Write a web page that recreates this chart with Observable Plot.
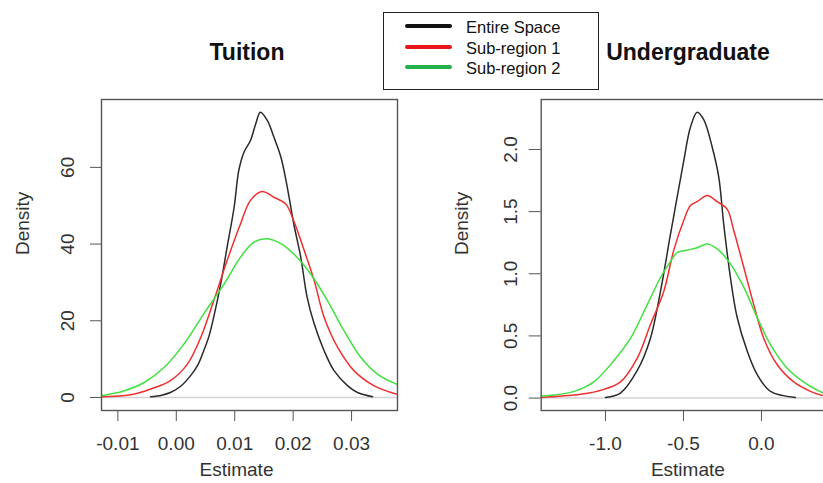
<!DOCTYPE html>
<html><head><meta charset="utf-8">
<script src="https://cdn.jsdelivr.net/npm/d3@7"></script>
<script src="https://cdn.jsdelivr.net/npm/@observablehq/plot@0.6"></script>
<style>
html,body{margin:0;padding:0;background:#fff;overflow:hidden;}
#stage{position:relative;width:823px;height:483px;overflow:hidden;background:#fff;font-family:"Liberation Sans",Arial,sans-serif;}
.panel{position:absolute;top:0;}
.title{position:absolute;font-weight:bold;font-size:23px;line-height:23px;color:#111;transform:translateX(-50%);white-space:nowrap;}
#legend{position:absolute;left:383px;top:12px;width:216px;height:78px;border:1px solid #222;box-sizing:border-box;background:#fff;}
.row{position:absolute;left:0;height:20px;width:100%;}
.swatch{position:absolute;left:21px;top:7px;width:47px;height:4px;border-radius:2px;}
.lab{position:absolute;left:82px;top:0;font-size:16.5px;color:#111;line-height:20px;white-space:nowrap;}
</style></head>
<body><div id="stage"></div>
<script>
// ---- data ----
const seriesNames = ["Entire Space", "Sub-region 1", "Sub-region 2"];
const seriesColors = ["#2a2a2a", "#f03030", "#40e040"];
const legendColors = ["#111111", "#e8141c", "#22b04b"];
const panelTitles = ["Tuition", "Undergraduate"];

const tuitionTicksX = [-0.01, 0.00, 0.01, 0.02, 0.03];
const tuitionTicksY = [0, 20, 40, 60];
const undergradTicksX = [-1.0, -0.5, 0.0];
const undergradTicksY = [0.0, 0.5, 1.0, 1.5, 2.0];

const tuitionEntireX = [-0.0044, -0.0025, -0.001, 0.0008, 0.00245, 0.0037, 0.0047, 0.0056, 0.0064, 0.0076, 0.0087, 0.0099, 0.0107, 0.0116, 0.0127, 0.0136, 0.0144, 0.0156, 0.0167, 0.0179, 0.019, 0.0201, 0.0213, 0.0224, 0.0236, 0.0253, 0.027, 0.0293, 0.031, 0.0336];
const tuitionEntireY = [0.2, 0.6, 1.3, 3, 5.7, 8.5, 12.2, 16, 20.9, 29.6, 39.2, 49.6, 59.2, 64, 67, 71.4, 74.4, 72.2, 67.9, 62.7, 54.8, 45.3, 36.6, 26.1, 19.2, 12.2, 7, 3.1, 1.3, 0.2];
const tuitionSub1X = [-0.013, -0.0078, -0.0044, -0.001, 0.0019, 0.0042, 0.0064, 0.0087, 0.011, 0.0127, 0.0147, 0.0167, 0.0187, 0.0201, 0.0219, 0.0236, 0.0253, 0.0276, 0.0304, 0.0338, 0.0378];
const tuitionSub1Y = [0.2, 0.7, 2.2, 4.4, 8.7, 15.7, 25.2, 35.7, 45.3, 51.4, 53.7, 52.2, 50.5, 46.1, 38.3, 30.5, 20.9, 13.1, 7, 3.1, 0.8];
const tuitionSub2X = [-0.013, -0.009, -0.0055, -0.0021, 0.0013, 0.0047, 0.0082, 0.011, 0.0133, 0.0156, 0.0179, 0.0201, 0.023, 0.0259, 0.0287, 0.0316, 0.0344, 0.0378];
const tuitionSub2Y = [0.4, 1.7, 3.9, 7.8, 13.9, 21.8, 29.6, 36.6, 40.5, 41.4, 40.1, 37.4, 32.2, 25.2, 17.4, 10.4, 6.1, 3.4];

const undergradEntireX = [-1.0, -0.904, -0.797, -0.712, -0.647, -0.583, -0.54, -0.498, -0.455, -0.412, -0.37, -0.316, -0.274, -0.242, -0.199, -0.156, -0.092, -0.028, 0.058, 0.218];
const undergradEntireY = [0.005, 0.04, 0.22, 0.48, 0.86, 1.32, 1.62, 1.91, 2.18, 2.30, 2.24, 2.02, 1.78, 1.40, 0.97, 0.65, 0.38, 0.19, 0.054, 0.005];
const undergradSub1X = [-1.417, -1.16, -1.01, -0.904, -0.797, -0.712, -0.626, -0.562, -0.498, -0.455, -0.412, -0.348, -0.284, -0.22, -0.178, -0.113, -0.049, 0.015, 0.10, 0.207, 0.314, 0.389];
const undergradSub1Y = [0.005, 0.03, 0.07, 0.13, 0.32, 0.59, 0.86, 1.19, 1.43, 1.55, 1.58, 1.63, 1.58, 1.52, 1.35, 1.05, 0.75, 0.48, 0.27, 0.13, 0.054, 0.02];
const undergradSub2X = [-1.417, -1.20, -1.075, -0.947, -0.84, -0.733, -0.647, -0.583, -0.54, -0.476, -0.412, -0.348, -0.284, -0.199, -0.113, -0.028, 0.058, 0.165, 0.293, 0.397];
const undergradSub2Y = [0.014, 0.054, 0.13, 0.30, 0.48, 0.75, 0.97, 1.10, 1.17, 1.19, 1.21, 1.24, 1.20, 1.08, 0.89, 0.65, 0.43, 0.24, 0.11, 0.04];

// ---- helpers ----
const zip = (xs, ys) => xs.map((x, i) => ({x, y: ys[i]}));
const stage = document.getElementById("stage");
const FONT = '"Liberation Sans", Arial, sans-serif';

function makePanel(cfg) {
  const marks = [
    Plot.ruleY([0], {stroke: "#d4d4d4", strokeWidth: 1.5}),
    ...cfg.series.map((s, i) => Plot.line(zip(s[0], s[1]), {
      x: "x", y: "y", stroke: seriesColors[i], strokeWidth: 1.5, curve: "catmull-rom", clip: true
    })),
    Plot.frame({stroke: "#555", strokeWidth: 1.4}),
    Plot.axisX(cfg.ticksX, {tickSize: 11, tickPadding: 15, tickFormat: cfg.fmtX, fontSize: 19, fill: "#333", stroke: "#555", label: null}),
    Plot.axisY(cfg.ticksY, {tickSize: cfg.tickSizeY, tickPadding: cfg.padY, tickRotate: -90, tickFormat: cfg.fmtY, fontSize: 19, fill: "#333", stroke: "#555", label: null}),
    Plot.text(["Estimate"], {text: d => d, frameAnchor: "bottom", dy: 65, dx: cfg.xLabelDx, fontSize: 19, fill: "#333"}),
    Plot.text(["Density"], {text: d => d, frameAnchor: "left", dx: -79, rotate: -90, fontSize: 19, fill: "#333"})
  ];
  const svg = Plot.plot({
    width: cfg.width, height: 483,
    marginLeft: cfg.mL, marginRight: cfg.mR, marginTop: 99, marginBottom: 73,
    style: {fontFamily: FONT, background: "transparent", overflow: "visible"},
    x: {domain: cfg.xDomain},
    y: {domain: cfg.yDomain},
    marks
  });
  svg.classList.add("panel");
  svg.style.left = cfg.left + "px";
  stage.appendChild(svg);
}

makePanel({
  left: 0, width: 420, mL: 101, mR: 23,
  xDomain: [-0.0128, 0.03786], yDomain: [-3.4, 77.7],
  ticksX: tuitionTicksX, ticksY: tuitionTicksY,
  fmtX: d => d.toFixed(2), fmtY: d => d.toFixed(0),
  tickSizeY: 11, padY: 17, xLabelDx: -13,
  series: [[tuitionEntireX, tuitionEntireY], [tuitionSub1X, tuitionSub1Y], [tuitionSub2X, tuitionSub2Y]]
});
makePanel({
  left: 420, width: 420, mL: 120.7, mR: 4,
  xDomain: [-1.412, 0.481], yDomain: [-0.1, 2.402],
  ticksX: undergradTicksX, ticksY: undergradTicksY,
  fmtX: d => d.toFixed(1), fmtY: d => d.toFixed(1),
  tickSizeY: 12, padY: 12, xLabelDx: -1,
  series: [[undergradEntireX, undergradEntireY], [undergradSub1X, undergradSub1Y], [undergradSub2X, undergradSub2Y]]
});

// titles
[[panelTitles[0], 247], [panelTitles[1], 688]].forEach(([t, cx]) => {
  const d = document.createElement("div");
  d.className = "title"; d.textContent = t;
  d.style.left = cx + "px"; d.style.top = "41px";
  stage.appendChild(d);
});

// legend
const leg = document.createElement("div");
leg.id = "legend";
const rowTops = [4, 24.5, 45];
seriesNames.forEach((name, i) => {
  const r = document.createElement("div");
  r.className = "row"; r.style.top = rowTops[i] + "px";
  const sw = document.createElement("div");
  sw.className = "swatch"; sw.style.background = legendColors[i];
  const lb = document.createElement("div");
  lb.className = "lab"; lb.textContent = name;
  r.appendChild(sw); r.appendChild(lb);
  leg.appendChild(r);
});
stage.appendChild(leg);
</script></body></html>
